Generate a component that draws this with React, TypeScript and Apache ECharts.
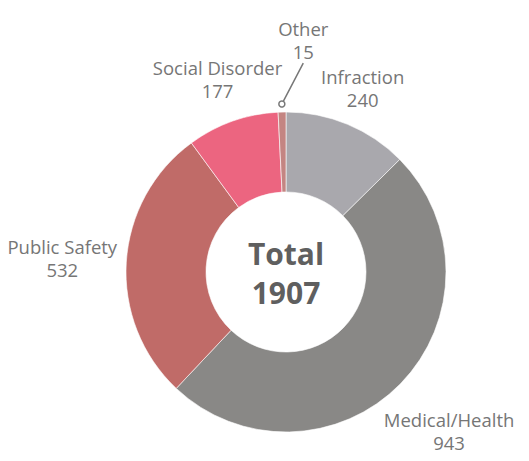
import React, { useEffect, useRef } from "react";
import * as echarts from "echarts";

const categories = ["Infraction", "Medical/Health", "Public Safety", "Social Disorder", "Other"];
const values = [240, 943, 532, 177, 15];
const sliceColors = ["#a9a8ad", "#898886", "#c06b68", "#ec6580", "#c48582"];
const centerTitle = "Total";

const W = 529;
const H = 461;
const CX = 286;
const CY = 272;
const R_IN = 80;
const R_OUT = 160;
const START = 90;
const FONT = '"Open Sans", "Noto Sans", sans-serif';

const total = values.reduce((a, b) => a + b, 0);

function midAngle(i: number) {
  let cum = 0;
  for (let k = 0; k < i; k++) cum += values[k];
  return ((START - ((cum + values[i] / 2) / total) * 360) * Math.PI) / 180;
}
const isSmall = (i: number) => values[i] / total < 0.02;

export default function App() {
  const ref = useRef<HTMLDivElement>(null);
  useEffect(() => {
    if (!ref.current) return;
    const chart = echarts.init(ref.current, undefined, { renderer: "svg" });

    const graphics: any[] = [
      {
        type: "text",
        x: CX,
        y: CY + 1,
        z: 10,
        style: {
          text: `${centerTitle}\n${total}`,
          fill: "#5f5f5f",
          fontFamily: FONT,
          fontWeight: "bold",
          fontSize: 30,
          lineHeight: 39,
          align: "center",
          verticalAlign: "middle",
        },
      },
    ];
    values.forEach((_, i) => {
      if (!isSmall(i)) return;
      const a = midAngle(i);
      graphics.push({
        type: "circle",
        z: 10,
        shape: { cx: CX + Math.cos(a) * (R_OUT + 8), cy: CY - Math.sin(a) * (R_OUT + 8), r: 3 },
        style: { fill: "#fff", stroke: "#777", lineWidth: 1.5 },
      });
    });

    chart.setOption({
      animation: false,
      graphic: graphics,
      series: [
        {
          type: "pie",
          center: [CX, CY],
          radius: [R_IN, R_OUT],
          startAngle: START,
          clockwise: true,
          avoidLabelOverlap: false,
          itemStyle: { borderColor: "#ffffff", borderWidth: 0.6 },
          emphasis: { disabled: true },
          label: {
            show: true,
            position: "outside",
            formatter: "{b}\n{c}",
            color: "#767676",
            fontFamily: FONT,
            fontSize: 18.5,
            lineHeight: 23,
          },
          labelLine: { show: false },
          labelLayout: (p: any) => {
            const i = p.dataIndex;
            const a = midAngle(i);
            const ux = Math.cos(a);
            const uy = -Math.sin(a);
            const hw = p.labelRect.width / 2;
            const hh = p.labelRect.height / 2;
            if (isSmall(i)) {
              const lx = CX + ux * (R_OUT + 72) + 23;
              const ly = CY + uy * (R_OUT + 72);
              const dx = CX + ux * (R_OUT + 8);
              const dy = CY + uy * (R_OUT + 8);
              return {
                x: lx,
                y: ly,
                align: "center",
                verticalAlign: "middle",
                labelLinePoints: [
                  [dx, dy],
                  [(dx + lx) / 2, (dy + ly + hh) / 2],
                  [lx, ly + hh],
                ],
              };
            }
            const gap = 158 + 10 * Math.abs(ux);
            const d = gap + hw * Math.abs(ux) + hh * Math.abs(uy);
            return {
              x: CX + ux * d,
              y: CY + uy * d,
              align: "center",
              verticalAlign: "middle",
            };
          },
          data: categories.map((name, i) => ({
            name,
            value: values[i],
            itemStyle: { color: sliceColors[i] },
            labelLine: isSmall(i)
              ? { show: true, lineStyle: { color: "#777", width: 1.5 } }
              : { show: false },
          })),
        },
      ],
    });
    return () => chart.dispose();
  }, []);
  return (
    <div
      ref={ref}
      style={{ position: "absolute", left: 0, top: 0, width: W, height: H, background: "#fff" }}
    />
  );
}
